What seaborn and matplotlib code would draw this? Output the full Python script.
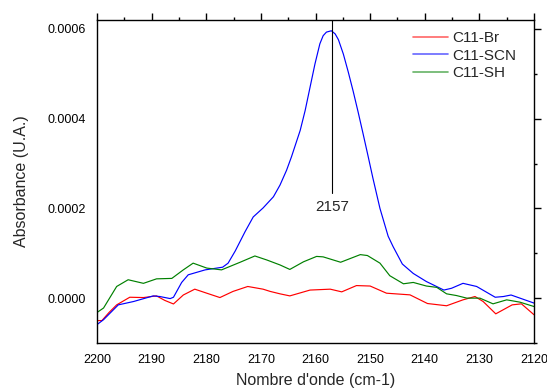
import numpy as np
import pandas as pd
import matplotlib
matplotlib.use("Agg")
import matplotlib.pyplot as plt
import seaborn as sns
from matplotlib.ticker import MultipleLocator

# ---- data ----
br_x = [2200, 2199.1, 2197.8, 2196.4, 2194.0, 2191.5, 2189.1, 2187.6, 2186.0, 2184.2, 2182.1,
        2179.9, 2177.5, 2175.1, 2172.4, 2169.6, 2168.3, 2166.5, 2164.7, 2161.0, 2157.3,
        2155.2, 2152.5, 2150.0, 2147.0, 2142.7, 2139.5, 2136.0, 2133.0, 2130.8, 2129.3,
        2127.0, 2124.0, 2122.3, 2120.0]
br_y = [-0.000050, -0.000050, -0.000032, -0.000015, 0.000002, 0.0000013, 0.000005, -0.000005, -0.000013,
        0.000007, 0.000020, 0.000011, 0.0000013, 0.000015, 0.000026, 0.000020, 0.000015,
        0.0000096, 0.000005, 0.000018, 0.000020, 0.000014, 0.000028, 0.000027, 0.000011,
        0.0000073, -0.000012, -0.000017, -0.0000038, 0.0000036, -0.0000076, -0.000035,
        -0.000015, -0.0000127, -0.000037]

scn_x = [2200, 2198.8, 2196.1, 2193.3, 2189.7, 2188.5, 2186.6, 2186.0, 2184.5, 2183.3,
         2180.2, 2177.0, 2176.0, 2174.7, 2172.9, 2171.4, 2169.6, 2167.7, 2166.5, 2165.3,
         2164.4, 2162.8, 2161.9, 2161.0, 2160.1, 2159.2, 2158.6, 2158.0, 2157.1, 2156.4,
         2155.8, 2154.9, 2154.0, 2153.1, 2152.2, 2151.3, 2150.4, 2149.5, 2148.2, 2146.7,
         2145.8, 2144.1, 2142.1, 2139.7, 2136.5, 2135.1, 2133.0, 2130.5, 2127.1, 2125.6,
         2124.2, 2120.0]
scn_y = [-0.000059, -0.000048, -0.000015, -0.0000075, 0.000005, 0.0000036, -0.000001, 0.000002,
         0.000035, 0.000052, 0.000063, 0.000069, 0.000078, 0.000105, 0.000148, 0.000181,
         0.000201, 0.000226, 0.000252, 0.000285, 0.000315, 0.000374, 0.000418, 0.000470,
         0.000522, 0.000567, 0.000585, 0.000593, 0.000596, 0.000589, 0.000576, 0.000544,
         0.000504, 0.000461, 0.000415, 0.000367, 0.000318, 0.000268, 0.000200, 0.000138,
         0.000115, 0.000076, 0.000055, 0.000037, 0.000018, 0.000022, 0.000033, 0.000026,
         0.000002, 0.0000036, 0.000007, -0.000011]

sh_x = [2200, 2198.8, 2196.4, 2194.3, 2191.5, 2189.1, 2186.3, 2184.2, 2182.4, 2179.9,
        2177.2, 2173.8, 2171.1, 2168.9, 2166.5, 2164.7, 2162.2, 2159.8, 2158.6, 2155.4,
        2151.8, 2150.5, 2148.2, 2146.4, 2143.9, 2142.1, 2139.7, 2137.8, 2136.0, 2134.2,
        2132.3, 2129.9, 2127.5, 2125.0, 2122.6, 2120.0]
sh_y = [-0.000032, -0.000022, 0.000026, 0.000041, 0.000033, 0.000043, 0.000044, 0.000063,
        0.000078, 0.000067, 0.000063, 0.000080, 0.000094, 0.000085, 0.000074, 0.000064,
        0.000081, 0.000093, 0.000092, 0.000080, 0.000097, 0.000095, 0.000078, 0.000050,
        0.000032, 0.000035, 0.000027, 0.000024, 0.0000096, 0.0000058, 0.0, 0.0,
        -0.0000127, -0.0000038, -0.0000089, -0.0000187]

series_names = ["C11-Br", "C11-SCN", "C11-SH"]
series_colors = ["#ff0000", "#0000ff", "#008000"]
peak_x = 2157
peak_label = "2157"

x_ticks = [2200, 2190, 2180, 2170, 2160, 2150, 2140, 2130, 2120]
y_ticks = [0.0, 0.0002, 0.0004, 0.0006]
y_tick_labels = ["0.0000", "0.0002", "0.0004", "0.0006"]

# ---- build frame ----
frames = []
for name, xs, ys in zip(series_names, [br_x, scn_x, sh_x], [br_y, scn_y, sh_y]):
    frames.append(pd.DataFrame({"x": xs, "y": ys, "serie": name}))
df = pd.concat(frames, ignore_index=True)

sns.set_style("white")
plt.rcParams["font.family"] = ["Liberation Sans", "DejaVu Sans"]

fig = plt.figure(figsize=(5.47, 3.91), dpi=100)
ax = fig.add_axes([97 / 547, 1 - 343 / 391, 437 / 547, 323 / 391])

sns.lineplot(data=df, x="x", y="y", hue="serie", hue_order=series_names,
             palette=series_colors, sort=False, estimator=None, linewidth=0.85, ax=ax)

ax.set_xlim(2200, 2120)
ax.set_ylim(-0.0001, 0.00062)

# peak annotation
ax.plot([peak_x, peak_x], [0.000234, 0.00062], color="black", linewidth=0.8)
ax.text(peak_x, 0.000204, peak_label, ha="center", va="center", fontsize=11)

ax.set_xticks(x_ticks)
ax.set_xticklabels([str(t) for t in x_ticks])
ax.set_yticks(y_ticks)
ax.set_yticklabels(y_tick_labels)
ax.xaxis.set_minor_locator(MultipleLocator(5))
ax.yaxis.set_minor_locator(MultipleLocator(0.0001))

ax.tick_params(which="both", direction="out", top=True, right=True,
               labeltop=False, labelright=False, colors="black", width=1.0)
ax.tick_params(which="major", length=5, labelsize=9, pad=3)
ax.tick_params(which="minor", length=2.5)

for s in ax.spines.values():
    s.set_visible(True)
    s.set_color("black")
    s.set_linewidth(1.0)

ax.set_xlabel("Nombre d'onde (cm-1)", fontsize=11.5, labelpad=5)
ax.set_ylabel("Absorbance (U.A.)", fontsize=11.5, labelpad=13)

leg = ax.legend(loc="upper left", bbox_to_anchor=(0.723, 0.965), frameon=False,
                fontsize=11, handlelength=2.3, handletextpad=0.3, labelspacing=0.22,
                borderpad=0, borderaxespad=0)
for h in leg.get_lines():
    h.set_linewidth(1.2)
    h.set_alpha(0.6)

fig.savefig("out.png", dpi=100)
